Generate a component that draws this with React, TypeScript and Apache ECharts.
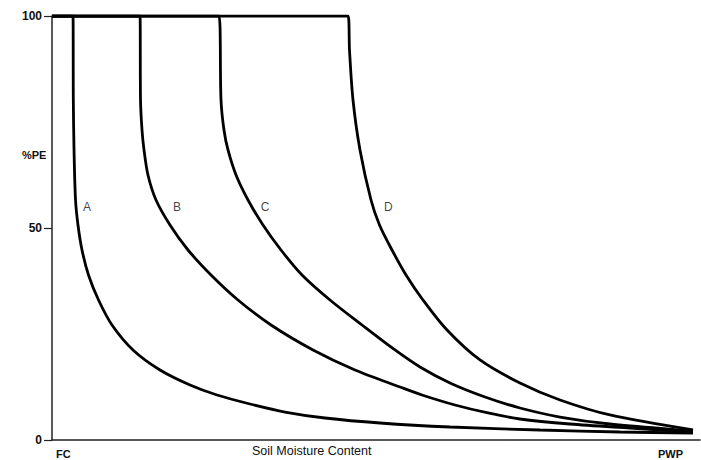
import React, { useEffect, useRef } from "react";
import * as echarts from "echarts";

const curveNames = ["A", "B", "C", "D"];

const curveA: number[][] = [
  [0, 100], [3.24, 100], [3.29, 80.19], [3.40, 68.40], [3.63, 56.60], [4.01, 50.71],
  [4.63, 44.81], [5.63, 38.92], [7.18, 33.02], [9.26, 27.12], [12.50, 21.23], [16.67, 16.51],
  [21.30, 12.97], [25.46, 10.61], [30.56, 8.49], [35.96, 6.60], [42.13, 5.19], [50.62, 4.01],
  [61.42, 3.07], [75.31, 2.36], [87.65, 1.89], [98.92, 1.65],
];
const curveB: number[][] = [
  [0, 100], [13.58, 100], [13.66, 80.19], [13.89, 73.11], [14.20, 68.40], [14.81, 62.50],
  [16.05, 56.60], [18.21, 50.71], [20.99, 44.81], [24.54, 38.92], [28.70, 33.02],
  [33.80, 27.12], [40.28, 21.23], [46.76, 16.51], [53.70, 12.50], [57.10, 10.61],
  [62.19, 8.25], [67.28, 6.37], [72.22, 4.95], [79.94, 3.77], [89.20, 2.83], [98.92, 1.89],
];
const curveC: number[][] = [
  [0, 100], [25.77, 100], [26.08, 80.19], [26.54, 73.11], [27.16, 68.40], [28.40, 62.50],
  [30.25, 56.60], [32.56, 50.71], [35.34, 44.81], [38.58, 38.92], [42.90, 33.02],
  [47.84, 27.12], [52.93, 21.23], [56.79, 17.22], [61.42, 13.44], [66.82, 10.14],
  [72.22, 7.55], [78.40, 5.42], [86.11, 3.77], [98.92, 2.12],
];
const curveD: number[][] = [
  [0, 100], [45.68, 100], [45.91, 91.98], [46.45, 80.19], [47.53, 68.40], [49.23, 56.60],
  [50.54, 50.71], [52.47, 44.81], [54.63, 38.92], [57.25, 33.02], [60.96, 25.94],
  [66.05, 18.87], [72.22, 13.44], [78.40, 9.43], [86.11, 5.90], [98.92, 2.36],
];
const curves = [curveA, curveB, curveC, curveD];

// label anchor positions for curve names (data coords)
const labelPositions: number[][] = [[5.4, 55], [19.3, 55], [32.9, 55], [51.9, 55]];

const yTicks = [0, 50, 100];
const xTickLabels: Record<number, string> = { 0: "FC", 100: "PWP" };
const yAxisTitle = "%PE";
const xAxisTitle = "Soil Moisture Content";

const FONT = "'Liberation Sans', Arial, sans-serif";

export default function App() {
  const ref = useRef<HTMLDivElement>(null);
  useEffect(() => {
    document.body.style.margin = "0";
    const chart = echarts.init(ref.current!, undefined, { renderer: "svg" });
    const series: any[] = curves.map((d, i) => ({
      name: curveNames[i],
      type: "line",
      data: d,
      symbol: "none",
      smooth: 0.3,
      lineStyle: { color: "#000", width: 2.8 },
      z: 3,
    }));
    series.push({
      type: "scatter",
      data: labelPositions.map((p, i) => [p[0], p[1], curveNames[i]]),
      symbolSize: 0,
      label: {
        show: true,
        position: "inside",
        formatter: (p: any) => p.value[2],
        color: "#111",
        fontSize: 12,
        fontFamily: FONT,
      },
      silent: true,
      z: 4,
    });
    chart.setOption({
      animation: false,
      backgroundColor: "#fff",
      grid: { left: 52, right: 1, top: 16, bottom: 20, containLabel: false },
      xAxis: {
        type: "value",
        min: 0,
        max: 100,
        interval: 100,
        axisLine: { show: true, lineStyle: { color: "#222", width: 1.5 } },
        axisTick: { show: false },
        splitLine: { show: false },
        axisLabel: {
          show: true,
          margin: 8,
          alignMinLabel: "left",
          alignMaxLabel: "right",
          formatter: (v: number) => {
            if (v === 0) return "{fc|" + xTickLabels[0] + "}";
            if (v === 100) return "{pwp|" + xTickLabels[100] + "}";
            return "";
          },
          rich: {
            fc: { padding: [0, 0, 0, 4], fontSize: 11, fontWeight: "bold", color: "#111", fontFamily: FONT },
            pwp: { padding: [0, 17, 0, 0], fontSize: 11, fontWeight: "bold", color: "#111", fontFamily: FONT },
          },
        },
      },
      yAxis: {
        type: "value",
        min: 0,
        max: 100,
        interval: 50,
        axisLine: { show: true, onZero: false, lineStyle: { color: "#222", width: 1.5 } },
        axisTick: { show: true, length: 8, lineStyle: { color: "#222", width: 1.2 } },
        splitLine: { show: false },
        axisLabel: {
          margin: 10,
          fontSize: 12,
          fontWeight: "bold",
          color: "#111",
          fontFamily: FONT,
          formatter: (v: number) => (yTicks.includes(v) ? String(v) : ""),
        },
      },
      graphic: [
        {
          type: "text",
          left: 22,
          top: 149,
          style: { text: yAxisTitle, fill: "#111", font: "bold 11px " + FONT },
        },
        {
          type: "text",
          left: 252,
          top: 444,
          style: { text: xAxisTitle, fill: "#111", font: "12.5px " + FONT },
        },
      ],
      series,
    });
    return () => chart.dispose();
  }, []);
  return <div ref={ref} style={{ width: 701, height: 460 }} />;
}
